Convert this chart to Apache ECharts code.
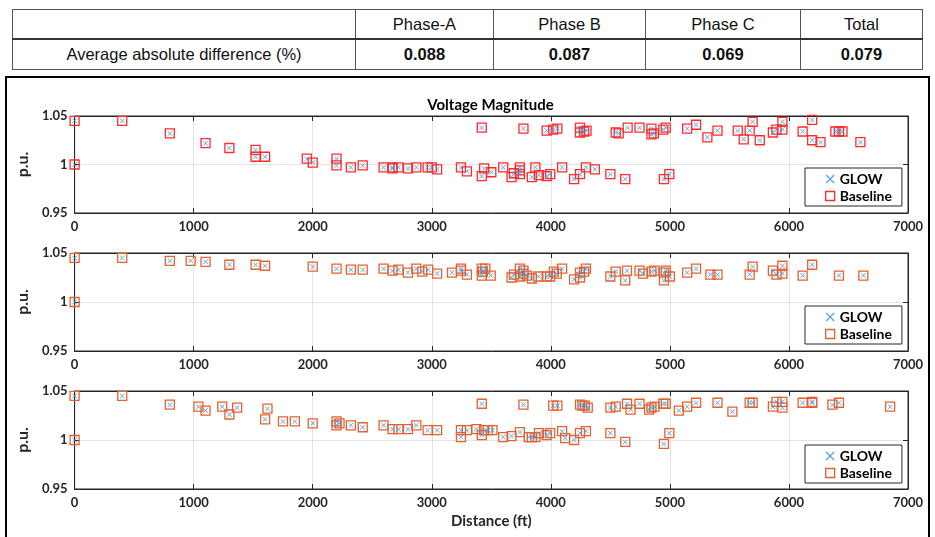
<!DOCTYPE html>
<html>
<head>
<meta charset="utf-8"/>
<title>Voltage Magnitude</title>
<script src="https://cdn.jsdelivr.net/npm/echarts@6/dist/echarts.min.js"></script>
<style>
  html, body { margin: 0; padding: 0; background: #fff; overflow: hidden; }
  #tbl { position: absolute; left: 12px; top: 9px; }
  #tbl table { border-collapse: collapse; font-family: "Liberation Sans", Arial, sans-serif; font-size: 16.5px; color: #111; }
  #tbl td { border: 1px solid #555; text-align: center; padding: 0; }
  #tbl tr.h td { height: 28px; border-bottom: 2px solid #333; }
  #tbl tr.d td { height: 29px; }
  #tbl td.v { font-weight: bold; }
  #chart { position: absolute; left: 5px; top: 76px; width: 921px; height: 470px; border: 2px solid #000; }
</style>
</head>
<body>
<div id="tbl"></div>
<div id="chart"></div>
<script type="text/javascript">
// table above the plot
var tableHead = ['Phase-A', 'Phase B', 'Phase C', 'Total'];
var tableRowName = 'Average absolute difference (%)';
var avgDiff = ['0.088', '0.087', '0.069', '0.079'];
var colWidths = [343, 138, 152, 155, 122];

// distance (ft) and voltage (p.u.) per phase; GLOW and Baseline overlap at this scale
var distA = [0,0,400,800,1100,1300,1520,1520,1600,1950,2000,2200,2200,2320,2420,2595,2670,2670,2720,2800,2870,2965,3000,3045,3245,3295,3420,3420,3440,3500,3600,3670,3690,3740,3740,3740,3770,3840,3870,3900,3965,3965,3995,4020,4055,4095,4195,4245,4245,4245,4280,4300,4295,4370,4500,4545,4570,4625,4645,4745,4845,4845,4865,4945,4965,4950,4995,5145,5220,5315,5400,5570,5620,5670,5695,5755,5865,5895,5945,5945,6115,6195,6195,6265,6390,6420,6450,6600];
var voltA = [1.045,1.000,1.045,1.032,1.022,1.017,1.015,1.008,1.008,1.006,1.002,1.006,0.999,0.997,0.999,0.997,0.996,0.997,0.997,0.996,0.997,0.997,0.997,0.995,0.997,0.993,1.038,0.988,0.996,0.992,0.997,0.987,0.991,0.997,0.994,0.990,1.037,0.987,0.997,0.989,0.988,1.035,0.990,1.036,1.037,0.997,0.985,0.990,1.038,1.033,1.034,1.035,0.997,0.995,0.990,1.033,1.032,0.985,1.038,1.038,1.037,1.031,1.032,1.036,1.038,0.985,0.990,1.037,1.041,1.028,1.035,1.035,1.026,1.035,1.044,1.025,1.033,1.036,1.044,1.036,1.034,1.046,1.025,1.023,1.034,1.034,1.034,1.023];

var distB = [0,0,400,800,975,1100,1300,1520,1600,2000,2200,2320,2420,2595,2670,2720,2800,2870,2920,2970,3045,3170,3245,3245,3295,3420,3420,3430,3450,3495,3670,3690,3740,3740,3770,3770,3800,3840,3895,3965,3995,4025,4050,4095,4195,4245,4245,4280,4295,4500,4545,4625,4640,4745,4775,4845,4870,4950,4950,4965,5000,5145,5220,5340,5400,5670,5695,5865,5895,5945,5945,6115,6195,6420,6625];
var voltB = [1.045,1.000,1.045,1.042,1.042,1.041,1.038,1.038,1.037,1.036,1.034,1.033,1.033,1.034,1.032,1.033,1.030,1.034,1.031,1.033,1.029,1.030,1.034,1.032,1.028,1.034,1.027,1.031,1.034,1.027,1.025,1.028,1.034,1.026,1.032,1.029,1.027,1.024,1.026,1.026,1.026,1.031,1.029,1.034,1.023,1.025,1.030,1.031,1.034,1.026,1.031,1.022,1.032,1.032,1.029,1.031,1.032,1.030,1.022,1.032,1.026,1.030,1.034,1.028,1.028,1.028,1.036,1.032,1.028,1.037,1.029,1.027,1.038,1.027,1.027];

var distC = [0,0,400,800,1040,1100,1240,1300,1365,1600,1620,1750,1850,2000,2200,2200,2225,2320,2420,2595,2670,2720,2800,2870,2965,3045,3245,3245,3295,3375,3420,3420,3440,3470,3510,3600,3670,3740,3770,3815,3840,3870,3900,3965,3995,4020,4055,4095,4120,4195,4245,4245,4265,4285,4310,4295,4500,4500,4545,4625,4640,4670,4745,4825,4845,4870,4945,4965,4950,4995,5075,5145,5220,5400,5525,5670,5695,5865,5895,5945,5945,6115,6195,6195,6365,6420,6850];
var voltC = [1.045,1.000,1.045,1.036,1.034,1.030,1.034,1.026,1.033,1.021,1.032,1.019,1.019,1.017,1.019,1.015,1.017,1.015,1.013,1.015,1.011,1.011,1.011,1.015,1.010,1.010,1.010,1.003,1.010,1.011,1.037,1.005,1.010,1.010,1.010,1.003,1.004,1.008,1.036,1.003,1.003,1.003,1.007,1.005,1.007,1.035,1.035,1.009,1.002,1.000,1.007,1.036,1.035,1.035,1.033,1.009,1.007,1.033,1.034,0.998,1.037,1.031,1.037,1.031,1.033,1.034,1.037,1.037,0.996,1.007,1.030,1.034,1.038,1.038,1.029,1.038,1.038,1.034,1.039,1.039,1.033,1.038,1.039,1.038,1.036,1.038,1.034];

// build the table
(function(){
  var html = '<table><colgroup>';
  colWidths.forEach(function(w){ html += '<col style="width:' + w + 'px">'; });
  html += '</colgroup><tr class="h"><td></td>';
  tableHead.forEach(function(t){ html += '<td>' + t + '</td>'; });
  html += '</tr><tr class="d"><td>' + tableRowName + '</td>';
  avgDiff.forEach(function(v){ html += '<td class="v">' + v + '</td>'; });
  html += '</tr></table>';
  document.getElementById('tbl').innerHTML = html;
})();

var glowColor = '#2f8fd8';
var baseColors = ['#ff2b2b', '#e4622f', '#e4622f'];
var xMark = 'path://M0,1L1,0L5,4L9,0L10,1L6,5L10,9L9,10L5,6L1,10L0,9L4,5Z';
var fontFam = 'Lato, "Open Sans", sans-serif';

var phases = [[distA, voltA], [distB, voltB], [distC, voltC]];
var gridTops = [38, 175, 313];
var gridHeights = [97, 98, 98];
var legendTops = [90, 228, 367];

function zip(xs, ys){
  return xs.map(function(x, i){ return [x, ys[i]]; });
}

var grids = [], xAxes = [], yAxes = [], series = [], legends = [];
phases.forEach(function(p, i){
  grids.push({left: 66, top: gridTops[i], width: 835, height: gridHeights[i],
    show: true, borderColor: '#262626', borderWidth: 1, backgroundColor: '#fff'});
  xAxes.push({type: 'value', gridIndex: i, min: 0, max: 7000, interval: 1000, position: 'bottom',
    axisLine: {show: true, onZero: false, lineStyle: {color: '#262626'}},
    axisTick: {show: true, inside: true, length: 5, lineStyle: {color: '#262626'}},
    axisLabel: {color: '#262626', fontFamily: fontFam, fontWeight: 'bold', fontSize: 13, margin: 7,
      formatter: function(v){ return String(v); }},
    splitLine: {show: true, lineStyle: {color: '#e3e3e3'}},
    name: i === 2 ? 'Distance (ft)' : '', nameLocation: 'middle', nameGap: 25,
    nameTextStyle: {color: '#262626', fontFamily: fontFam, fontWeight: 'bold', fontSize: 15}});
  xAxes.push({type: 'value', gridIndex: i, min: 0, max: 7000, interval: 1000, position: 'top',
    axisLine: {show: true, onZero: false, lineStyle: {color: '#262626'}},
    axisTick: {show: true, inside: true, length: 5, lineStyle: {color: '#262626'}},
    axisLabel: {show: false}, splitLine: {show: false}});
  yAxes.push({type: 'value', gridIndex: i, min: 0.95, max: 1.05, interval: 0.05, position: 'left',
    axisLine: {show: true, onZero: false, lineStyle: {color: '#262626'}},
    axisTick: {show: true, inside: true, length: 5, lineStyle: {color: '#262626'}},
    axisLabel: {color: '#262626', fontFamily: fontFam, fontWeight: 'bold', fontSize: 13, margin: 7},
    splitLine: {show: true, lineStyle: {color: '#e3e3e3'}},
    name: 'p.u.', nameLocation: 'middle', nameGap: 31, nameRotate: 90,
    nameTextStyle: {color: '#262626', fontFamily: fontFam, fontWeight: 'bold', fontSize: 16}});
  yAxes.push({type: 'value', gridIndex: i, min: 0.95, max: 1.05, interval: 0.05, position: 'right',
    axisLine: {show: true, onZero: false, lineStyle: {color: '#262626'}},
    axisTick: {show: true, inside: true, length: 5, lineStyle: {color: '#262626'}},
    axisLabel: {show: false}, splitLine: {show: false}});

  var pts = zip(p[0], p[1]);
  series.push({name: 'Baseline', type: 'scatter', xAxisIndex: 2 * i, yAxisIndex: 2 * i,
    symbol: 'rect', symbolSize: 9, data: pts,
    itemStyle: {color: 'rgba(255,255,255,0)', borderColor: baseColors[i], borderWidth: 1.3, opacity: 1},
    emphasis: {disabled: true}});
  series.push({name: 'GLOW', type: 'scatter', xAxisIndex: 2 * i, yAxisIndex: 2 * i,
    symbol: xMark, symbolSize: 5, data: pts,
    itemStyle: {color: glowColor},
    emphasis: {disabled: true}});

  legends.push({left: 798, top: legendTops[i], orient: 'vertical', selectedMode: false,
    backgroundColor: '#fff', borderColor: '#262626', borderWidth: 1,
    padding: [4, 10, 3, 20], itemGap: 3, itemWidth: 9, itemHeight: 9,
    textStyle: {color: '#000', fontFamily: fontFam, fontWeight: 'bold', fontSize: 14},
    data: [
      {name: 'GLOW', icon: xMark, itemStyle: {color: glowColor}},
      {name: 'Baseline', icon: 'rect', itemStyle: {color: 'rgba(255,255,255,0)', borderColor: baseColors[i], borderWidth: 1.3}}
    ]});
});

var myChart = echarts.init(document.getElementById('chart'));
var option = {
  animation: false,
  graphic: [{type: 'text', x: 483.5, y: 27,
    style: {text: 'Voltage Magnitude', textAlign: 'center', textVerticalAlign: 'middle',
      fill: '#000', font: 'bold 15px ' + fontFam}}],
  legend: legends,
  grid: grids,
  xAxis: xAxes,
  yAxis: yAxes,
  series: series
};
myChart.setOption(option);
</script>
</body>
</html>
